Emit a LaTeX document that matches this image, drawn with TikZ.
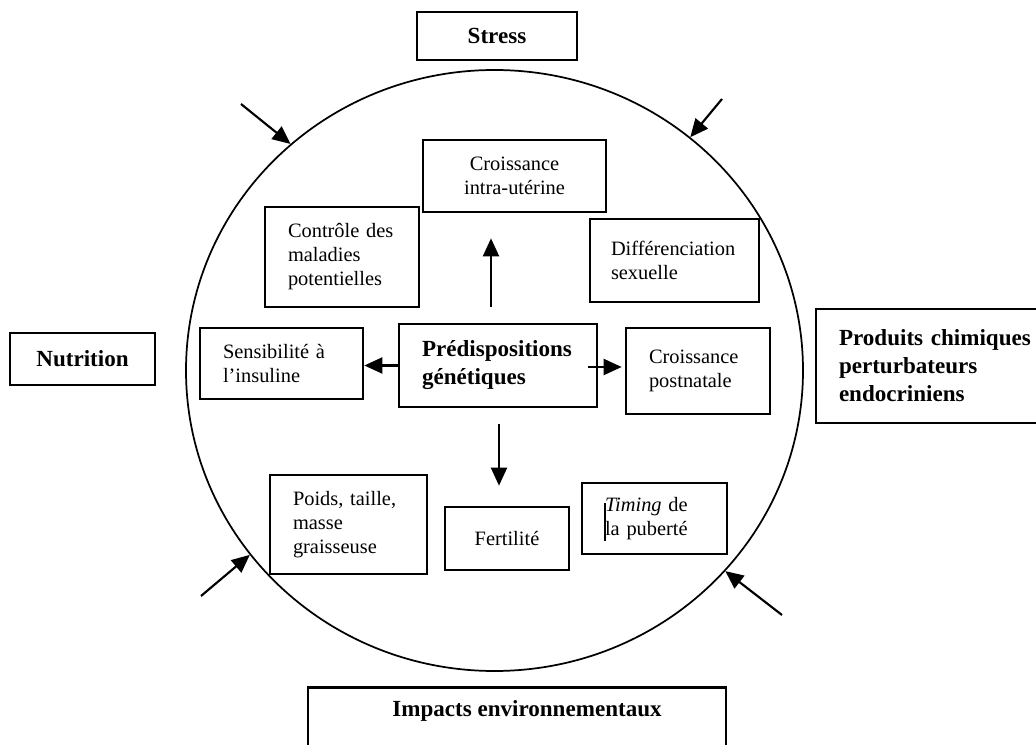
\documentclass[tikz,border=0pt]{standalone}
\usepackage{fontspec}
\setmainfont{Liberation Serif}
\usetikzlibrary{arrows.meta,shapes.geometric,calc}
\begin{document}
\begin{tikzpicture}[x=0.75pt,y=-0.75pt,
  nfont/.style={font=\fontsize{15.3}{18}\selectfont},
  bfont/.style={font=\bfseries\fontsize{17.3}{21}\selectfont},
  box/.style={draw, line width=2pt, inner ysep=0pt, inner xsep=0pt},
  lbox/.style={box, align=left, inner xsep=17.25pt},
  cbox/.style={box, align=center},
  arr/.style={-{Triangle[length=13.5pt,width=12pt]}, line width=1.6pt},
  ringstyle/.style={draw, ellipse, line width=1.3pt, inner sep=0pt}
]
\useasboundingbox (0,0) rectangle (1036,745);
\clip (0,0) rectangle (1036,745);

% big circle
\node[ringstyle, minimum width=462.75pt, minimum height=450.75pt] (ring) at (494.5,370.5) {};

% outer boxes
\node[cbox, bfont, minimum width=120pt, minimum height=36pt] (stress) at (497,36) {Stress};
\node[cbox, bfont, minimum width=108.75pt, minimum height=39pt] (nutr) at (82.5,359) {Nutrition};
\node[lbox, bfont, text width=150pt, minimum height=85.5pt] (prod) at (939,366)
  {Produits chimiques\\perturbateurs\\endocriniens};
\node[box, bfont, anchor=north, minimum width=313.5pt, align=center,
      text height=21.75pt, text depth=50pt] (imp) at (517,686)
  {\hspace*{15pt}Impacts environnementaux};

% inner boxes
\node[cbox, nfont, minimum width=137.25pt, minimum height=54pt] (cu) at (514.5,176)
  {Croissance\\intra-utérine};
\node[lbox, nfont, text width=81pt, minimum height=75pt] (ctrl) at (342,257)
  {Contrôle des\\maladies\\potentielles};
\node[lbox, nfont, inner xsep=15.75pt, text width=95.25pt, minimum height=62.25pt] (diff) at (674.5,260.5)
  {Différenciation\\sexuelle};
\node[lbox, nfont, text width=87.75pt, minimum height=53.25pt] (sens) at (281.5,363.5)
  {Sensibilité à\\l’insuline};
\node[lbox, bfont, text width=114pt, minimum height=62.25pt] (pred) at (498,365.5)
  {Prédispositions\\génétiques};
\node[lbox, nfont, text width=73.5pt, minimum height=64.5pt] (cpost) at (698,371)
  {Croissance\\postnatale};
\node[lbox, nfont, text width=83.25pt, minimum height=74.25pt] (poids) at (348.5,524.5)
  {Poids, taille,\\masse\\graisseuse};
\node[cbox, nfont, minimum width=93pt, minimum height=47.25pt] (fert) at (507,538.5)
  {Fertilité};
\node[lbox, nfont, text width=74.25pt, minimum height=53.25pt] (timing) at (654.5,518.5)
  {\textit{Timing} de\\la puberté};
% text-cursor mark visible in the original
\draw[line width=0.8pt] (605,503) -- (605,541);

% inner arrows
\draw[arr] ($(pred.north)+(-7,-16)$) -- ($(cu.south)+(-23.5,25)$);
\draw[arr] ($(pred.south)+(1,16)$) -- ($(fert.north)+(-8,-20)$);
\draw[arr] (pred.west) -- (pred.west -| sens.east);
\draw[arr] ($(pred.east)+(-10,1.5)$) -- ($(pred.east -| cpost.west)+(-3,1.5)$);

% outer arrows onto the circle
\coordinate (tl) at (241,104);
\coordinate (tr) at (722,99);
\coordinate (bl) at (201,596);
\coordinate (br) at (782,615);
\draw[arr] (tl) -- (ring.132.6);
\draw[arr] (tr) -- (ring.50.7);
\draw[arr] (bl) -- (ring.217.8);
\draw[arr] (br) -- (ring.319.1);
\end{tikzpicture}
\end{document}
